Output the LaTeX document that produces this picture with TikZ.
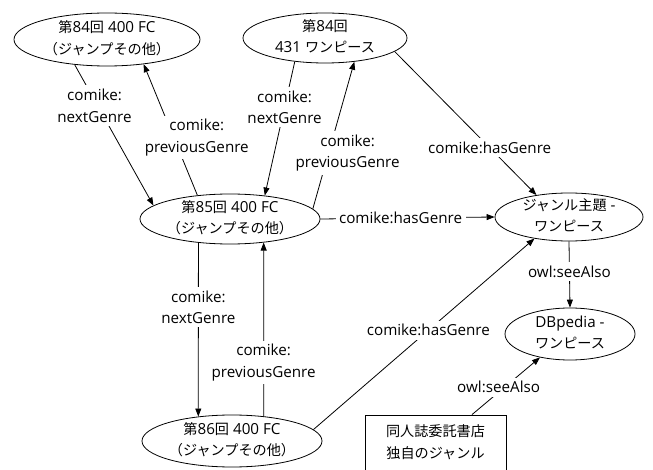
\documentclass[tikz,border=0pt]{standalone}
\usepackage{fontspec}
\setmainfont{Open Sans}
\newfontfamily\jp[Scale=0.93]{Noto Sans CJK JP}
\usetikzlibrary{shapes.geometric,arrows.meta}
\newcommand{\fs}{\fontsize{15.2pt}{21.5pt}\selectfont}
\begin{document}
\begin{tikzpicture}[x=1pt,y=-1pt,
  ell/.style={draw, ellipse, inner sep=0pt, line width=0.8pt},
  txt/.style={align=center, font=\fs, inner sep=0pt},
  lbl/.style={fill=white, align=center, font=\fs, inner sep=3.5pt},
  arr/.style={line width=0.8pt, -{Triangle[length=8pt,width=6pt]}}]
\useasboundingbox (0,0) rectangle (653,470);
\clip (0,0) rectangle (653,470);
\fill[white] (0,0) rectangle (653,470);

\node[ell, minimum width=186pt, minimum height=53pt,
  label={[txt, yshift=1.5pt]center:{{\jp 第}84{\jp 回} 400 FC\\{\jp （ジャンプその他）}}}] (e1) at (107,39.5) {};
\node[ell, minimum width=164pt, minimum height=50pt,
  label={[txt, yshift=1.5pt]center:{{\jp 第}84{\jp 回}\\431 {\jp ワンピース}}}] (e2) at (325,38) {};
\node[ell, minimum width=180pt, minimum height=50pt,
  label={[txt, yshift=1.5pt]center:{{\jp 第}85{\jp 回} 400 FC\\{\jp （ジャンプその他）}}}] (e3) at (230,219) {};
\node[ell, minimum width=180pt, minimum height=52pt,
  label={[txt, yshift=1.5pt]center:{{\jp 第}86{\jp 回} 400 FC\\{\jp （ジャンプその他）}}}] (e6) at (232,441) {};
\node[ell, minimum width=148pt, minimum height=48pt,
  label={[txt, yshift=1.5pt]center:{{\jp ジャンル主題} -\\{\jp ワンピース}}}] (e4) at (569,217) {};
\node[ell, minimum width=130pt, minimum height=52pt,
  label={[txt, yshift=1.5pt]center:{DBpedia -\\{\jp ワンピース}}}] (e5) at (570,334) {};
\node[draw, line width=0.8pt, rectangle, minimum width=141pt, minimum height=60pt, inner sep=0pt,
  label={[txt, yshift=3pt]center:{{\jp 同人誌委託書店}\\{\jp 独自のジャンル}}}] (box) at (435.5,445) {};

\draw[arr] (e1.-142) -- node[lbl,pos=0.29,xshift=-3pt]{comike:\\nextGenre} (e3.170);
\draw[arr] (e3.144) -- node[lbl,pos=0.44,xshift=23pt]{comike:\\previousGenre} (e1.-34);
\draw[arr] (e2.-142) -- node[lbl,pos=0.34]{comike:\\nextGenre} (e3.34);
\draw[arr] (e3.7.6) -- node[lbl,pos=0.38,xshift=19pt]{comike:\\previousGenre} (e2.-39);
\draw[arr] (e2.-11.6) -- node[lbl,pos=0.67]{comike:hasGenre} (e4.146);
\draw[arr] (e3.east) -- node[lbl,pos=0.46]{comike:hasGenre} (e4.west);
\draw[arr] (e6.8) -- node[lbl,pos=0.52]{comike:hasGenre} (e4.-148);
\draw[arr] (e4.south) -- node[lbl,pos=0.46]{owl:seeAlso} (e5.north);
\draw[arr] ([xshift=36.5pt]box.north) -- node[lbl,pos=0.48,xshift=-6pt]{owl:seeAlso} (e5.-142.5);
\draw[arr] (e3.-143.8) -- node[lbl,pos=0.37]{comike:\\nextGenre} (e6.144.7);
\draw[arr] (e6.38.2) -- node[lbl,pos=0.31]{comike:\\previousGenre} (e3.-35.2);
\end{tikzpicture}
\end{document}
